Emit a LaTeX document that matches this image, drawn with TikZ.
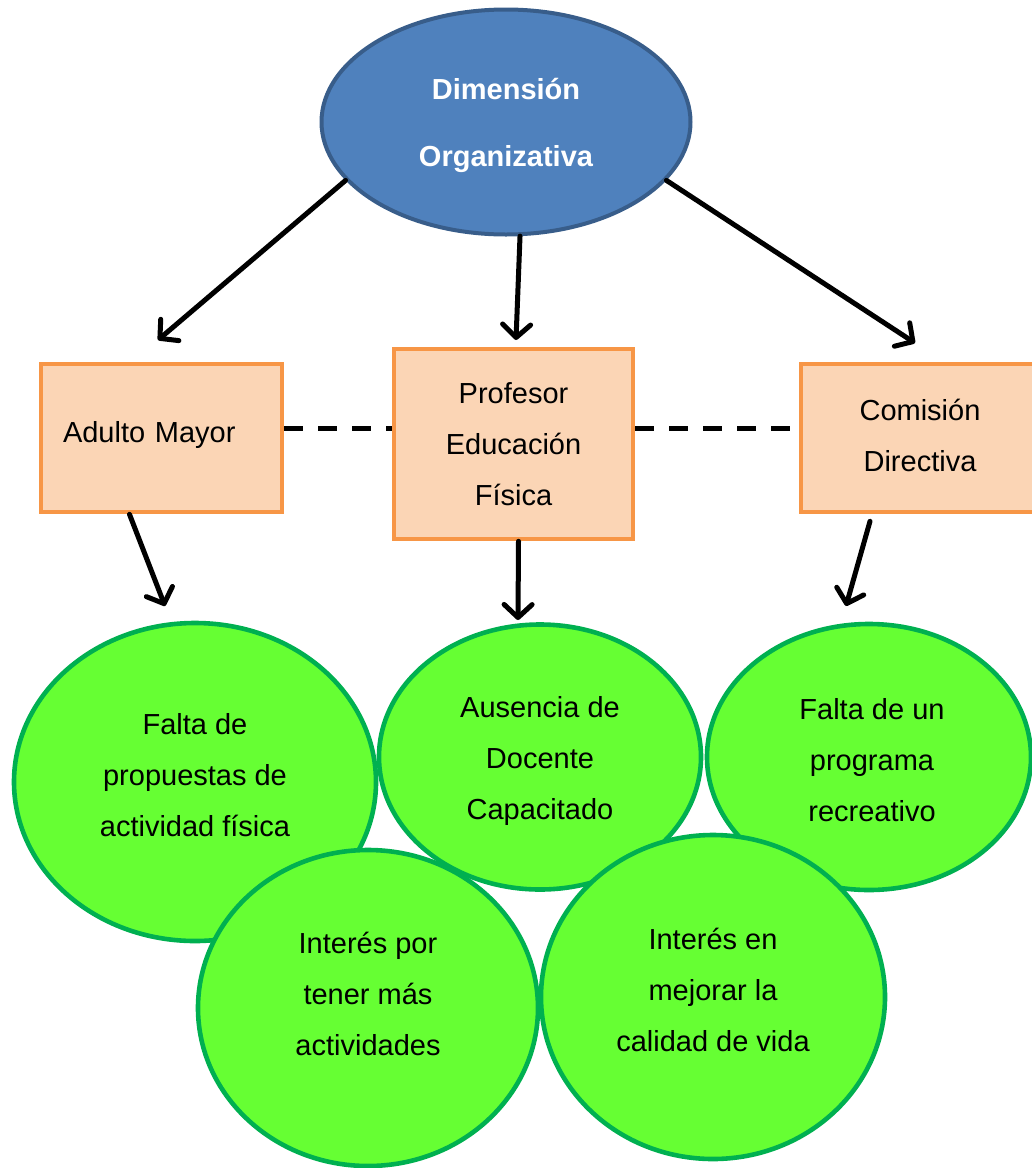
\documentclass[tikz,border=0pt]{standalone}
\usepackage{fontspec}
\setmainfont{Liberation Sans}
\usetikzlibrary{shapes.geometric,arrows.meta}
\definecolor{dimfill}{HTML}{4F81BD}
\definecolor{dimline}{HTML}{385D8A}
\definecolor{boxfill}{HTML}{FBD5B5}
\definecolor{boxline}{HTML}{F79646}
\definecolor{ballfill}{HTML}{66FF33}
\definecolor{ballline}{HTML}{00B050}

\begin{document}
\begin{tikzpicture}[x=1pt,y=-1pt,
  dimension/.style={ellipse, draw=dimline, fill=dimfill, line width=4pt, inner sep=0pt,
    minimum width=369pt, minimum height=225pt, text=white,
    font=\fontsize{29}{67}\selectfont\bfseries, align=center},
  actor/.style={rectangle, draw=boxline, fill=boxfill, line width=4.6pt, inner sep=0pt,
    font=\fontsize{29}{51}\selectfont, align=center},
  ball/.style={ellipse, draw=ballline, fill=ballfill, line width=4.6pt, inner sep=0pt},
  balltext/.style={font=\fontsize{29}{51}\selectfont, align=center, inner sep=0pt},
  link/.style={line width=5pt, line cap=round,
    -{Straight Barb[length=13pt,width=28pt,round]}},
  peer/.style={line width=5pt, dash pattern=on 19pt off 15pt},
]
\clip (0,0) rectangle (1032,1168);

% top ellipse
\node[dimension] (dim) at (506,122) {\rule{0pt}{28pt}Dimensión\\Organizativa};

% actor boxes
\node[actor, minimum width=241pt, minimum height=148pt, text width=197pt,
      align=left, inner xsep=22pt] (am) at (161.5,438) {Adulto Mayor\rule[-12pt]{0pt}{0pt}};
\node[actor, minimum width=239pt, minimum height=190pt] (pf) at (513.5,444)
      {Profesor\\Educación\\Física};
\node[actor, minimum width=238pt, minimum height=148pt] (cd) at (920,438)
      {Comisión\\Directiva\rule[-6pt]{0pt}{0pt}};

% problem / interest bubbles
\node[ball, minimum width=362pt, minimum height=318pt] (c1) at (195,782) {};
\node[ball, minimum width=340pt, minimum height=316pt] (c4) at (368,1008) {};
\node[ball, minimum width=322pt, minimum height=265pt] (c2) at (540,757) {};
\node[ball, minimum width=324pt, minimum height=266pt] (c3) at (869,757) {};
\node[ball, minimum width=344pt, minimum height=324pt] (c5) at (713,997) {};

\node[balltext] (c1t) at (195,775) {Falta de\\propuestas de\\actividad física};
\node[balltext] (c2t) at (540,761) {Ausencia de\\Docente\\Capacitado};
\node[balltext] (c3t) at (872,760) {Falta de un\\programa\\recreativo};
\node[balltext] (c4t) at (368,994) {Interés por\\tener más\\actividades};
\node[balltext] (c5t) at (713,990) {Interés en\\mejorar la\\calidad de vida};

% arrow end points
\coordinate (amtip) at (158,340);
\coordinate (pftip) at (516,340);
\coordinate (cdtip) at (915,343);
\coordinate (c1tip) at (165,606);
\coordinate (c2tip) at (518,620);
\coordinate (c3tip) at (846,606);

% connectors
\draw[link] (dim.200) -- (amtip);
\draw[link] (dim.277) -- (pftip);
\draw[link] (dim.340) -- (cdtip);
\draw[link] ([xshift=-32pt]am.south) -- (c1tip);
\draw[link] ([xshift=5pt]pf.south) -- (c2tip);
\draw[link] ([xshift=-50pt,yshift=-7pt]cd.south) -- (c3tip);

\draw[peer] ([yshift=10pt]am.east) -- ([yshift=16pt]pf.west);
\draw[peer] ([yshift=16pt]pf.east) -- ([yshift=10pt]cd.west);
\end{tikzpicture}
\end{document}
